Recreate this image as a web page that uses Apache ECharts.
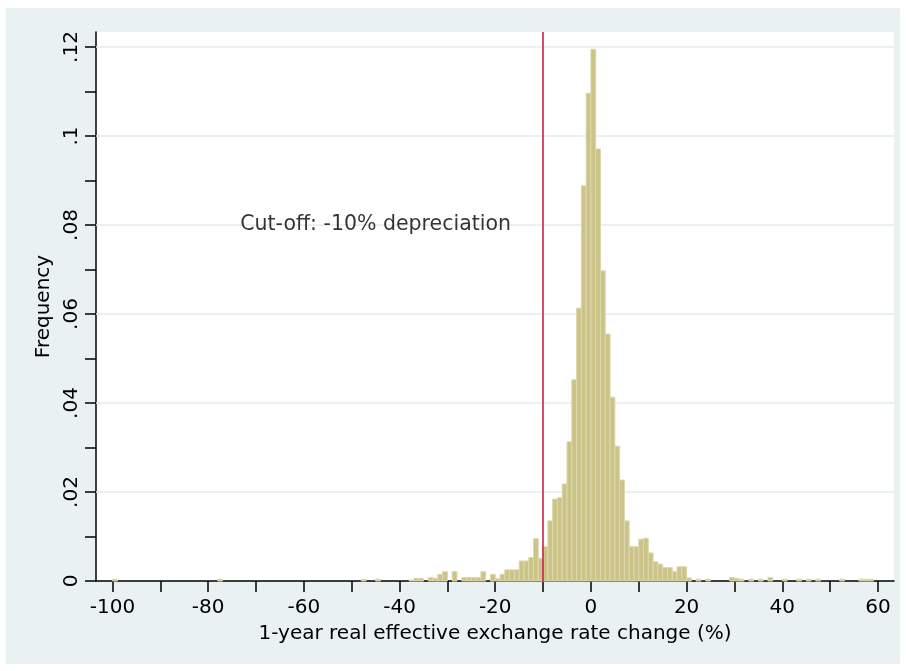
<!DOCTYPE html>
<html>
<head>
<meta charset="utf-8">
<title>Real effective exchange rate changes</title>
<script src="https://cdn.jsdelivr.net/npm/echarts@6/dist/echarts.min.js"></script>
<style>
  html, body { margin: 0; padding: 0; background: #ffffff; }
  #frame { position: absolute; left: 6px; top: 8px; width: 894px; height: 656px; background: #EAF1F3; }
  #chart { position: absolute; left: 0; top: 0; width: 906px; height: 671px; }
</style>
</head>
<body>
<div id="frame"></div>
<div id="chart"></div>
<script>
// Histogram of 1-year real effective exchange rate changes (%), bins of width 1
const binWidth = 1;
const binStarts = [
  -100, -78, -48, -45, -38, -37, -36, -34, -33, -32, -31, -29,
  -27, -26, -25, -24, -23, -21, -20, -19, -18, -17, -16,
  -15, -14, -13, -12, -11, -10, -9, -8, -7, -6, -5, -4, -3, -2, -1,
  0, 1, 2, 3, 4, 5, 6, 7, 8, 9, 10, 11, 12, 13, 14, 15, 16, 17, 18, 19,
  20, 22, 24, 29, 30, 31, 33, 35, 37, 40, 43, 45, 47, 52, 56, 57, 58
];
const frequency = [
  0.0004, 0.0004, 0.0004, 0.0004, 0.0002, 0.0006, 0.0006, 0.0008, 0.0006, 0.0015, 0.0021, 0.0021,
  0.0008, 0.0008, 0.0008, 0.0008, 0.0021, 0.0015, 0.0005, 0.0015, 0.0025, 0.0025, 0.0025,
  0.0045, 0.0045, 0.0053, 0.0095, 0.0051, 0.0077, 0.0135, 0.0184, 0.0187, 0.0218, 0.0313, 0.0452, 0.0613, 0.0888, 0.1096,
  0.1195, 0.0971, 0.0697, 0.0555, 0.0413, 0.0303, 0.0227, 0.0135, 0.0077, 0.0077, 0.0094, 0.0096, 0.0063, 0.0043, 0.0038, 0.0030, 0.0030, 0.0021, 0.0032, 0.0032,
  0.0007, 0.0004, 0.0004, 0.0008, 0.0006, 0.0004, 0.0004, 0.0004, 0.0008, 0.0004, 0.0004, 0.0004, 0.0004, 0.0004, 0.0004, 0.0004, 0.0004
];

// Axis ticks and labels
const xTickValues = [-100, -90, -80, -70, -60, -50, -40, -30, -20, -10, 0, 10, 20, 30, 40, 50, 60];
const xLabelValues = [-100, -80, -60, -40, -20, 0, 20, 40, 60];
const yTickValues = [0, 0.01, 0.02, 0.03, 0.04, 0.05, 0.06, 0.07, 0.08, 0.09, 0.1, 0.11, 0.12];
const yLabelValues = [0, 0.02, 0.04, 0.06, 0.08, 0.1, 0.12];
const yLabelText = ['0', '.02', '.04', '.06', '.08', '.1', '.12'];
const gridLineValues = [0.02, 0.04, 0.06, 0.08, 0.1, 0.12];

// Reference line and its note
const cutoffValue = -10;
const noteX = -45;
const noteY = 0.08;
const noteText = 'Cut-off: -10% depreciation';

const xTitle = '1-year real effective exchange rate change (%)';
const yTitle = 'Frequency';

const FONT = 'DejaVu Sans';
const barFill = '#CBC388';
const barEdge = '#DDD8AC';

const histData = binStarts.map((s, i) => [s, s + binWidth, frequency[i]]);

const chart = echarts.init(document.getElementById('chart'), null, { renderer: 'canvas' });

chart.setOption({
  backgroundColor: 'transparent',
  animation: false,
  textStyle: { fontFamily: FONT },
  grid: {
    left: 96, right: 12, top: 32, bottom: 90,
    show: true, backgroundColor: '#ffffff', borderWidth: 0
  },
  xAxis: {
    type: 'value',
    min: -103.45,
    max: 63.35,
    name: xTitle,
    nameLocation: 'middle',
    nameGap: 43,
    nameTextStyle: { color: '#000', fontSize: 20, fontFamily: FONT },
    axisLine: { show: true, onZero: false, lineStyle: { color: '#000', width: 1.5 } },
    axisTick: { show: true, length: 11, customValues: xTickValues, lineStyle: { color: '#000', width: 1.5 } },
    axisLabel: {
      customValues: xLabelValues,
      margin: 17,
      color: '#000', fontSize: 20, fontFamily: FONT,
      showMinLabel: true, showMaxLabel: true
    },
    splitLine: { show: false }
  },
  yAxis: {
    type: 'value',
    min: 0,
    max: 0.12337,
    name: yTitle,
    nameLocation: 'middle',
    nameGap: 37,
    nameRotate: 90,
    nameTextStyle: { color: '#000', fontSize: 20, fontFamily: FONT },
    axisLine: { show: true, onZero: false, lineStyle: { color: '#000', width: 1.5 } },
    axisTick: { show: true, length: 11, customValues: yTickValues, lineStyle: { color: '#000', width: 1.5 } },
    axisLabel: {
      customValues: yLabelValues,
      rotate: 90,
      margin: 14,
      color: '#000', fontSize: 20, fontFamily: FONT,
      formatter: function (v) {
        let best = 0;
        for (let i = 1; i < yLabelValues.length; i++) {
          if (Math.abs(yLabelValues[i] - v) < Math.abs(yLabelValues[best] - v)) best = i;
        }
        return yLabelText[best];
      }
    },
    splitLine: { show: false }
  },
  series: [
    {
      // horizontal grid lines behind the bars
      type: 'line',
      data: [],
      z: 1,
      silent: true,
      markLine: {
        z: 1,
        silent: true,
        symbol: 'none',
        label: { show: false },
        lineStyle: { color: '#E4ECEE', width: 1.5, type: 'solid' },
        data: gridLineValues.map(v => ({ yAxis: v }))
      }
    },
    {
      type: 'custom',
      z: 2,
      encode: { x: [0, 1], y: 2 },
      data: histData,
      renderItem: function (params, api) {
        const topLeft = api.coord([api.value(0), api.value(2)]);
        const bottomRight = api.coord([api.value(1), 0]);
        return {
          type: 'rect',
          shape: {
            x: topLeft[0],
            y: topLeft[1],
            width: bottomRight[0] - topLeft[0],
            height: bottomRight[1] - topLeft[1]
          },
          style: { fill: barFill, stroke: barEdge, lineWidth: 1 }
        };
      }
    },
    {
      // vertical cut-off line
      type: 'line',
      data: [],
      z: 3,
      silent: true,
      markLine: {
        z: 5,
        silent: true,
        symbol: 'none',
        label: { show: false },
        lineStyle: { color: '#CC1040', width: 1.5, type: 'solid' },
        data: [{ xAxis: cutoffValue }]
      }
    },
    {
      type: 'scatter',
      z: 4,
      silent: true,
      symbolSize: 1,
      itemStyle: { color: 'transparent' },
      data: [[noteX, noteY]],
      label: {
        show: true,
        position: 'inside',
        formatter: noteText,
        color: '#000',
        fontSize: 20.5,
        fontFamily: FONT,
        textBorderWidth: 0,
        textBorderColor: 'transparent',
        textShadowBlur: 0
      }
    }
  ]
});
</script>
</body>
</html>
